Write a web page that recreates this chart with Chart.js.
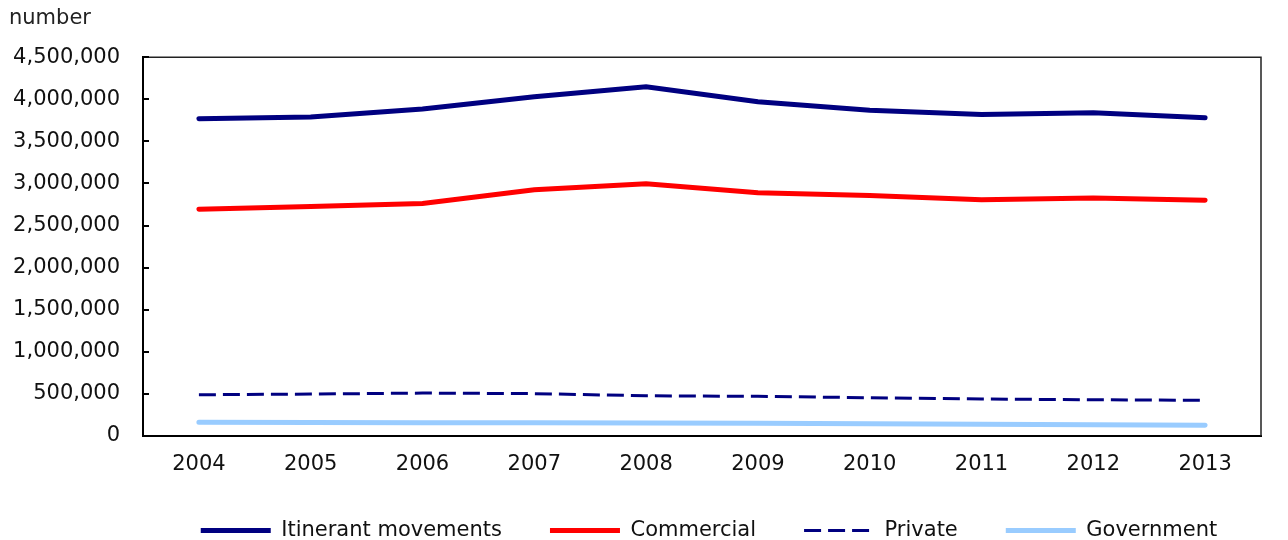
<!DOCTYPE html>
<html>
<head>
<meta charset="utf-8">
<script src="https://cdn.jsdelivr.net/npm/chart.js@4"></script>
<style>
html,body{margin:0;padding:0;background:#fff;}
#wrap{width:1288px;height:540px;}
</style>
</head>
<body>
<div id="wrap"><canvas id="c" width="1288" height="540"></canvas></div>
<script>
const years = ['2004','2005','2006','2007','2008','2009','2010','2011','2012','2013'];
const itinerant = [3768000, 3790000, 3886000, 4030000, 4148000, 3970000, 3870000, 3820000, 3840000, 3780000];
const commercial = [2695000, 2727000, 2763000, 2925000, 2996000, 2889000, 2857000, 2806000, 2826000, 2802000];
const privateFlights = [490000, 498000, 510000, 503000, 478000, 471000, 455000, 439000, 431000, 424000];
const government = [162000, 160000, 158000, 156000, 153000, 150000, 146000, 141000, 134000, 127000];
const seriesNames = ['Itinerant movements', 'Commercial', 'Private', 'Government'];
const yTicks = [0, 500000, 1000000, 1500000, 2000000, 2500000, 3000000, 3500000, 4000000, 4500000];

const FONT = 'DejaVu Sans';
const FS = 21;

const framePlugin = {
  id: 'frame',
  afterLayout(chart) {
    const lg = chart.legend;
    if (lg) {
      const a = chart.chartArea;
      const center = (a.left + a.right) / 2 + 7;
      const half = (lg.right - lg.left) / 2;
      lg.left = center - half;
      lg.right = center + half;
      lg.top = 472;
      lg.bottom = 540;
    }
  },
  afterDatasetsDraw(chart) {
    const {ctx, chartArea: a} = chart;
    const ys = chart.scales.y;
    ctx.save();
    ctx.strokeStyle = '#222';
    ctx.lineWidth = 1.5;
    ctx.beginPath();
    ctx.moveTo(a.left, a.top);
    ctx.lineTo(a.right, a.top);
    ctx.lineTo(a.right, a.bottom);
    ctx.stroke();
    ctx.strokeStyle = '#000';
    ctx.lineWidth = 2;
    ctx.beginPath();
    ys.ticks.forEach(t => {
      const y = Math.round(ys.getPixelForValue(t.value));
      ctx.moveTo(a.left, y);
      ctx.lineTo(a.left + 6, y);
    });
    ctx.stroke();
    ctx.restore();
  }
};

new Chart(document.getElementById('c'), {
  type: 'line',
  data: {
    labels: years,
    datasets: [
      {label: seriesNames[0], data: itinerant, borderColor: '#000080', backgroundColor: '#000080', borderWidth: 5, pointRadius: 0, tension: 0, borderCapStyle: 'round'},
      {label: seriesNames[1], data: commercial, borderColor: '#FF0000', backgroundColor: '#FF0000', borderWidth: 5, pointRadius: 0, tension: 0, borderCapStyle: 'round'},
      {label: seriesNames[2], data: privateFlights, borderColor: '#000080', backgroundColor: '#000080', borderWidth: 3, borderDash: [17, 7], pointRadius: 0, tension: 0},
      {label: seriesNames[3], data: government, borderColor: '#99CCFF', backgroundColor: '#99CCFF', borderWidth: 5, pointRadius: 0, tension: 0, borderCapStyle: 'round'}
    ]
  },
  options: {
    responsive: false,
    animation: false,
    devicePixelRatio: 1,
    layout: {padding: {left: 9, right: 27, top: 4, bottom: 0}},
    plugins: {
      title: {
        display: true, text: 'number', align: 'start', color: '#222',
        font: {family: FONT, size: FS, weight: 'normal'},
        padding: {top: 2, bottom: 26}
      },
      legend: {
        position: 'bottom',
        maxHeight: 63,
        labels: {
          usePointStyle: true, pointStyle: 'line', pointStyleWidth: 70,
          color: '#111', font: {family: FONT, size: FS},
          padding: 48, boxHeight: 5,
          generateLabels(chart) {
            return chart.data.datasets.map((d, i) => ({
              text: d.label, strokeStyle: d.borderColor, fillStyle: d.borderColor,
              lineWidth: d.borderWidth, lineDash: d.borderDash || [], pointStyle: 'line',
              datasetIndex: i, hidden: false, fontColor: '#111'
            }));
          }
        }
      },
      tooltip: {enabled: false}
    },
    scales: {
      x: {
        offset: true,
        grid: {display: false, drawTicks: false, tickLength: 0},
        border: {display: true, color: '#000', width: 2},
        ticks: {color: '#111', font: {family: FONT, size: FS}, padding: 16, maxRotation: 0},
        afterFit(scale) { scale.height = 41; }
      },
      y: {
        min: 0, max: 4500000,
        afterBuildTicks(axis) { axis.ticks = yTicks.map(v => ({value: v})); },
        grid: {display: false, drawTicks: false, tickLength: 0},
        border: {display: true, color: '#000', width: 2},
        ticks: {color: '#111', font: {family: FONT, size: FS}, padding: 23,
          callback: v => v.toLocaleString('en-US')},
        afterFit(scale) { scale.width = 134; }
      }
    }
  },
  plugins: [framePlugin]
});
</script>
</body>
</html>
